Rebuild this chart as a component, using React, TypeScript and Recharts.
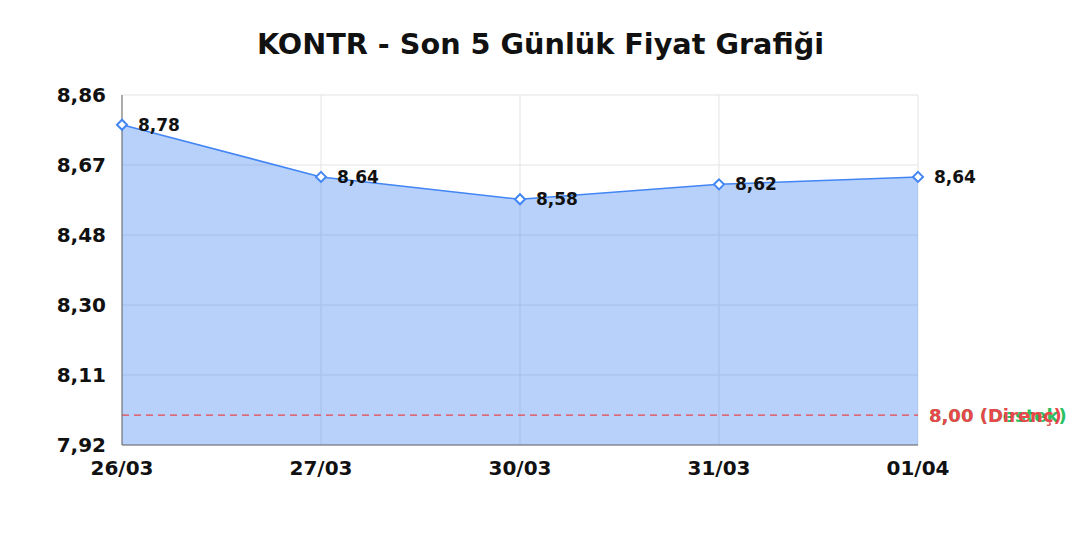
import React from "react";
import {
  AreaChart,
  Area,
  XAxis,
  YAxis,
  CartesianGrid,
  ReferenceLine,
  LabelList,
} from "recharts";

const dates = ["26/03", "27/03", "30/03", "31/03", "01/04"];
const prices = [8.78, 8.64, 8.58, 8.62, 8.64];
const yTicks = [7.92, 8.108, 8.296, 8.484, 8.672, 8.86];
const supportLevel = 8.0;
const resistanceLevel = 8.0;
const title = "KONTR - Son 5 Günlük Fiyat Grafiği";

const data = dates.map((d, i) => ({ date: d, price: prices[i] }));

const FONT = "'DejaVu Sans', sans-serif";
const BLUE = "#4285f4";
const RED = "#e8474b";
const GREEN = "#2bbf62";

const fmt = (v: number) => Number(v).toFixed(2).replace(".", ",");

const Diamond = (props: any) => {
  const { cx, cy } = props;
  if (cx == null || cy == null) return null;
  const r = 5;
  return (
    <path
      d={`M${cx},${cy - r} L${cx + r},${cy} L${cx},${cy + r} L${cx - r},${cy} Z`}
      fill="#ffffff"
      stroke={BLUE}
      strokeWidth={2}
    />
  );
};

const PointLabel = (props: any) => {
  const { x, y, value } = props;
  if (x == null || y == null) return null;
  return (
    <text
      x={x + 16}
      y={y + 6}
      fontFamily={FONT}
      fontWeight="bold"
      fontSize={17}
      fill="#111"
      textAnchor="start"
    >
      {fmt(value)}
    </text>
  );
};

export default function App() {
  return (
    <div style={{ position: "absolute", left: 0, top: 0, width: 1080, height: 540, background: "#fff" }}>
      <svg width={1080} height={80} style={{ position: "absolute", left: 0, top: 0 }}>
        <text
          x={540.5}
          y={54}
          textAnchor="middle"
          fontFamily={FONT}
          fontWeight="bold"
          fontSize={28.7}
          fill="#111"
        >
          {title}
        </text>
      </svg>
      <div style={{ position: "absolute", left: 0, top: 0 }}>
        <AreaChart
          width={1080}
          height={540}
          data={data}
          margin={{ top: 95, right: 162, bottom: 65, left: 0 }}
        >
          <CartesianGrid stroke="#e3e3e3" strokeWidth={1} />
          <XAxis
            dataKey="date"
            height={30}
            tickLine={false}
            tickMargin={10}
            axisLine={{ stroke: "#666", strokeWidth: 1 }}
            tick={{ fontFamily: FONT, fontWeight: "bold", fontSize: 20, fill: "#111" }}
            interval={0}
          />
          <YAxis
            width={122}
            domain={[7.92, 8.86]}
            ticks={yTicks}
            tickFormatter={fmt}
            tickLine={false}
            tickMargin={10}
            axisLine={{ stroke: "#666", strokeWidth: 1 }}
            tick={{ fontFamily: FONT, fontWeight: "bold", fontSize: 20, fill: "#111" }}
            allowDataOverflow
          />
          <Area
            type="linear"
            dataKey="price"
            stroke={BLUE}
            strokeWidth={1.5}
            fill={BLUE}
            fillOpacity={0.38}
            dot={<Diamond />}
            activeDot={false}
            isAnimationActive={false}
          >
            <LabelList dataKey="price" content={<PointLabel />} />
          </Area>
          <ReferenceLine
            y={supportLevel}
            stroke={GREEN}
            strokeOpacity={0}
            strokeDasharray="7 5"
            strokeWidth={1.2}
            label={{
              value: `${fmt(supportLevel)} (Destek)`,
              position: "right",
              offset: 11,
              fill: GREEN,
              fontFamily: FONT,
              fontWeight: "bold",
              fontSize: 18,
            }}
          />
          <ReferenceLine
            y={resistanceLevel}
            stroke={RED}
            strokeDasharray="7 5"
            strokeWidth={1.2}
            label={{
              value: `${fmt(resistanceLevel)} (Direnç)`,
              position: "right",
              offset: 11,
              fill: RED,
              fontFamily: FONT,
              fontWeight: "bold",
              fontSize: 18,
            }}
          />
        </AreaChart>
      </div>
    </div>
  );
}
